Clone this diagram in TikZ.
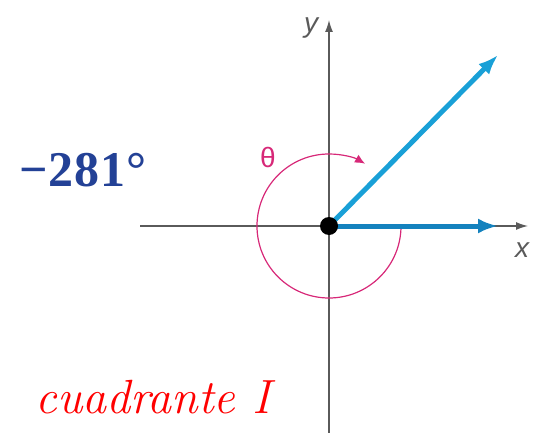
\documentclass[tikz,border=0pt]{standalone}
\usepackage{fontspec}
\setsansfont{Liberation Sans}
\newfontfamily\lserif{Liberation Serif}
\usetikzlibrary{arrows.meta}
\definecolor{raycol}{RGB}{25,160,215}
\definecolor{raydark}{RGB}{20,130,190}
\definecolor{axiscol}{RGB}{90,90,90}
\definecolor{anglecol}{RGB}{215,40,120}
\definecolor{labblue}{RGB}{35,65,150}
\tikzset{
  axis/.style={draw=axiscol, line width=1.3pt, -{Latex[length=12pt,width=8pt]}},
  ray/.style={draw=raycol, line width=5pt, -{Latex[length=20pt,width=15pt]}},
  anglearc/.style={draw=anglecol, line width=1.2pt, -{Latex[length=10pt,width=9pt]}},
}
\begin{document}
\begin{tikzpicture}[x=1pt,y=-1pt]
\useasboundingbox (0,0) rectangle (535,433);
\coordinate (O) at (329,226);
\coordinate (xl) at (140,226);
\coordinate (xr) at (528,226);
\coordinate (yb) at (329,433);
\coordinate (yt) at (329,20);
\coordinate (r1) at (498,226);
\coordinate (r2) at (498,55);
\draw[axis] (xl) -- (xr);
\draw[axis] (yb) -- (yt);
\draw[anglearc] ([shift={(0:72)}]O) arc[start angle=0, end angle=300, radius=72];
\draw[ray, draw=raydark] (O) -- (r1);
\draw[ray] (O) -- (r2);
\fill[black] (O) circle[radius=9];
\node[font=\sffamily\itshape\fontsize{28}{30}\selectfont, text=axiscol] (ylab) at (311,28) {y};
\node[font=\sffamily\itshape\fontsize{28}{30}\selectfont, text=axiscol] (xlab) at (522,250) {x};
\node[text=anglecol, font=\sffamily\fontsize{28}{30}\selectfont] (th) at (268,157) {θ};
\node[text=labblue, font=\lserif\bfseries\fontsize{50}{54}\selectfont\addfontfeatures{LetterSpace=2}] (ang) at (83,170) {−281°};
\node[text=red, font=\itshape\fontsize{48}{52}\selectfont\addfontfeatures{LetterSpace=6}] (quad) at (153,397) {cuadrante I};
\end{tikzpicture}
\end{document}
